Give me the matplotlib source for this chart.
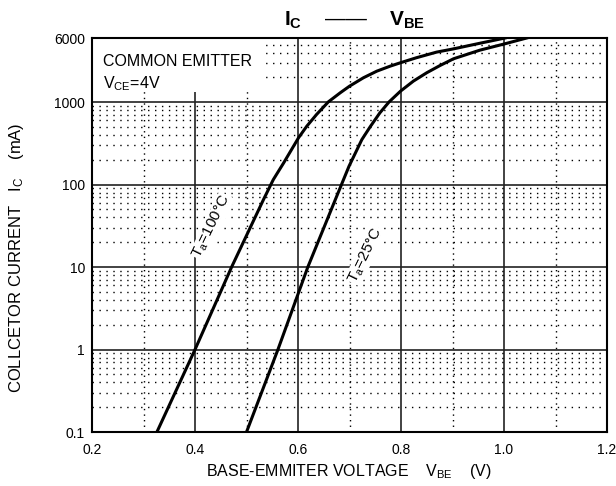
import numpy as np
import matplotlib
matplotlib.use('Agg')
import matplotlib.pyplot as plt
from matplotlib.patches import Rectangle

plt.rcParams['font.family'] = ['Liberation Sans', 'DejaVu Sans']
plt.rcParams['mathtext.fontset'] = 'custom'
plt.rcParams['mathtext.rm'] = 'Liberation Sans'
plt.rcParams['mathtext.it'] = 'Liberation Sans:italic'
plt.rcParams['mathtext.bf'] = 'Liberation Sans:bold'

# curves (V_BE in V, I_C in mA)
vbe_100 = [0.326, 0.400, 0.471, 0.533, 0.552, 0.572, 0.601, 0.617, 0.636, 0.659,
           0.682, 0.700, 0.727, 0.753, 0.779, 0.799, 0.830, 0.869, 0.902, 0.953, 1.002]
ic_100 = [0.1, 1, 10, 66, 115, 183, 370, 511, 709, 1010,
          1300, 1563, 1977, 2377, 2735, 3008, 3460, 4045, 4430, 5180, 6000]

vbe_25 = [0.500, 0.561, 0.619, 0.675, 0.699, 0.724, 0.740, 0.759, 0.777, 0.799,
          0.824, 0.850, 0.876, 0.902, 0.953, 1.002, 1.044]
ic_25 = [0.1, 1, 10, 72, 167, 352, 502, 743, 1010, 1360,
         1800, 2275, 2788, 3360, 4270, 5110, 6000]

x_ticks = [0.2, 0.4, 0.6, 0.8, 1.0, 1.2]
x_minor = [0.3, 0.5, 0.7, 0.9, 1.1]
y_ticks = [0.1, 1, 10, 100, 1000, 6000]
y_labels = ['0.1', '1', '10', '100', '1000', '6000']

fig = plt.figure(figsize=(6.16, 4.86), dpi=100)
ax = fig.add_axes([0.1494, 0.1111, 0.836, 0.8107])

ax.set_yscale('log')
ax.set_xlim(0.2, 1.2)
ax.set_ylim(0.1, 6000)

ax.set_xticks(x_ticks)
ax.set_xticklabels(['%.1f' % v for v in x_ticks])
ax.set_xticks(x_minor, minor=True)
ax.set_yticks(y_ticks)
ax.set_yticklabels(y_labels)
y_minor = [m * 10.0 ** d for d in range(-1, 4) for m in range(2, 10) if m * 10.0 ** d < 6000]
ax.set_yticks(y_minor, minor=True)
ax.tick_params(which='both', length=0, labelsize=10)
ax.tick_params(axis='y', pad=5)
ax.tick_params(axis='x', pad=8)

ax.set_axisbelow(True)
ax.grid(True, which='major', color='#222222', lw=1.2, ls='-')
ax.xaxis.grid(True, which='minor', color='black', lw=1.0, ls=(0, (1, 3)))
ax.yaxis.grid(True, which='minor', color='black', lw=1.0, ls=(0, (1, 4)))

for s in ax.spines.values():
    s.set_linewidth(1.5)

# white patch behind the condition text
ax.add_patch(Rectangle((0, 0.862), 0.33, 0.138, transform=ax.transAxes,
                       facecolor='white', edgecolor='none', zorder=1))
ax.text(0.022, 0.94, 'COMMON EMITTER', transform=ax.transAxes,
        fontsize=11.5, va='center', zorder=3)
ax.text(0.022, 0.885, r'V$_{\mathrm{CE}}$=4V', transform=ax.transAxes,
        fontsize=11.5, va='center', zorder=3)

ax.plot(vbe_100, ic_100, color='black', lw=2.2, zorder=2)
ax.plot(vbe_25, ic_25, color='black', lw=2.2, zorder=2)

ax.text(0.433, 31, r'$\mathrm{T_a}$=100°C', rotation=64, fontsize=11,
        ha='center', va='center', zorder=3,
        bbox=dict(facecolor='white', edgecolor='none', pad=0.5))
ax.text(0.731, 14, r'$\mathrm{T_a}$=25°C', rotation=64, fontsize=11,
        ha='center', va='center', zorder=3,
        bbox=dict(facecolor='white', edgecolor='none', pad=0.5))

fig.text(0.575, 0.958, r'$\mathbf{I_C}$    ——    $\mathbf{V_{BE}}$',
         ha='center', va='center', fontsize=15)

fig.text(0.566, 0.029, r'BASE-EMMITER VOLTAGE    $\mathrm{V_{BE}}$    (V)',
         fontsize=11.5, ha='center', va='center')
fig.text(0.026, 0.47, r'COLLCETOR CURRENT   $\mathrm{I_C}$    (mA)',
         fontsize=12, ha='center', va='center', rotation=90)

fig.savefig('out.png', dpi=100)
